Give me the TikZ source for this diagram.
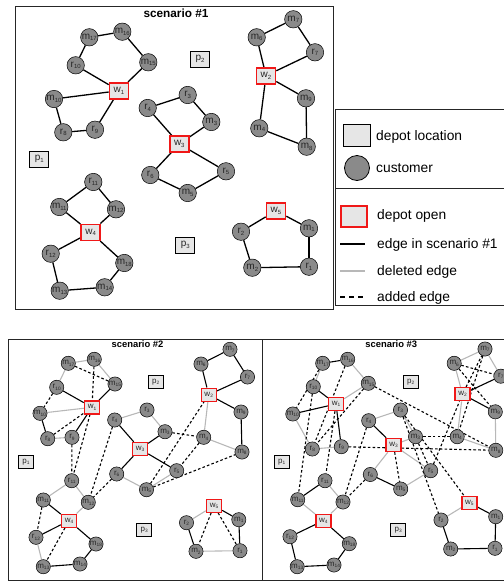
\documentclass[tikz,border=0pt]{standalone}
\usepackage{fontspec}
\setmainfont{Liberation Sans}
\usetikzlibrary{backgrounds}
\definecolor{custgray}{HTML}{8A8A8A}
\definecolor{depfill}{HTML}{E6E6E6}
\definecolor{delgray}{HTML}{B8B8B8}
\definecolor{openred}{HTML}{F01818}
\newcommand\subA[1]{\raisebox{-0.3ex}{\fontsize{6}{6}\selectfont #1}}
\newcommand\subB[1]{\raisebox{-0.3ex}{\fontsize{4.8}{5}\selectfont #1}}
\tikzset{
 custA/.style={circle, draw=black, line width=0.5pt, fill=custgray, minimum size=17.4pt, inner sep=0pt, text=black!85, font=\fontsize{10}{10}\selectfont},
 custB/.style={custA, minimum size=14.2pt, font=\fontsize{8}{8}\selectfont},
 depA/.style={rectangle, draw=black, line width=0.8pt, fill=depfill, minimum width=19pt, minimum height=16pt, inner sep=0pt, text=black!85, font=\fontsize{10}{10}\selectfont},
 depB/.style={depA, minimum width=15pt, minimum height=13pt, font=\fontsize{8}{8}\selectfont},
 openA/.style={depA, draw=openred, line width=1.6pt},
 openB/.style={depB, draw=openred, line width=1.4pt},
 sol/.style={line width=1.3pt, black},
 solB/.style={line width=1.1pt, black},
 delB/.style={line width=1.1pt, delgray},
 addB/.style={line width=1.1pt, black, dash pattern=on 2.6pt off 2.2pt},
 legtext/.style={anchor=base west, inner sep=0pt, font=\fontsize{13.8}{16}\selectfont},
 frame/.style={line width=0.9pt, black!85},
}
\begin{document}
\begin{tikzpicture}[x=1pt,y=-1pt]
\useasboundingbox (0,0) rectangle (504,582);
% frames
\draw[frame] (15,6) rectangle (333,309);
\draw[frame] (335,109) rectangle (510,305.5);
\draw[frame] (335,188.3) -- (510,188.3);
\draw[frame] (8.3,339.3) rectangle (262,580);
\draw[frame] (262,339.3) rectangle (510,580);
% titles
\node[anchor=base, inner sep=0pt, font=\bfseries\fontsize{11.8}{12}\selectfont] (t1) at (176,17.2) {scenario \#1};
\node[anchor=base, inner sep=0pt, font=\bfseries\fontsize{9.4}{10}\selectfont] (t2) at (137.5,347.5) {scenario \#2};
\node[anchor=base, inner sep=0pt, font=\bfseries\fontsize{9.4}{10}\selectfont] (t3) at (391.3,347.5) {scenario \#3};
% legend
\node[draw=black, line width=0.8pt, fill=depfill, minimum width=27pt, minimum height=22pt, inner sep=0pt] (lg1) at (356.5,135) {};
\node[legtext] (lt1) at (376,140) {depot location};
\node[circle, draw=black, line width=0.8pt, fill=custgray, minimum size=25pt, inner sep=0pt] (lg2) at (357,168) {};
\node[legtext] (lt2) at (376,172.5) {customer};
\node[draw=openred, line width=1.4pt, fill=depfill, minimum width=26pt, minimum height=21pt, inner sep=0pt] (lg3) at (354,216.5) {};
\node[legtext] (lt3) at (377,219.5) {depot open};
\coordinate (l1a) at (340,244); \coordinate (l1b) at (365,244);
\draw[line width=2pt] (l1a) -- (l1b);
\node[legtext] (lt4) at (377,248.5) {edge in scenario \#1};
\coordinate (l2a) at (340,270.7); \coordinate (l2b) at (365,270.7);
\draw[line width=2pt, delgray] (l2a) -- (l2b);
\node[legtext] (lt5) at (377,275.2) {deleted edge};
\coordinate (l3a) at (340,296.7); \coordinate (l3b) at (366,296.7);
\draw[line width=2pt, dash pattern=on 5pt off 4pt] (l3a) -- (l3b);
\node[legtext] (lt6) at (377,301.2) {added edge};
% ---------------- scenario 1 nodes
\foreach \l/\k/\x/\y in {m/17/89.3/37.3, m/16/122.3/31.7, m/15/148.3/62.3, r/10/75.7/65.3, m/10/54/99, r/8/63.3/132.3, r/9/95/129.7, r/3/187.7/95, r/4/147.7/108, m/3/211.3/122, r/6/150.3/175, r/5/226/171.3, m/5/187.7/193, r/11/93.3/182, m/11/59.3/207, m/12/116/209.3, r/12/50.7/253.7, m/18/124.3/263, m/13/59.7/290.7, m/14/104.7/287.3, m/7/293.3/19.3, m/6/256.7/37.3, r/7/315/52.3, m/9/306/98.3, m/4/259.3/128.3, m/8/306.7/146.7, r/2/241/231.7, m/1/309/228.3, m/2/252.3/267.7, r/1/309/266.7}
  \node[custA] (a\l\k) at (\x,\y) {\l\subA{\k}};
\foreach \k/\x/\y in {1/119/90.7, 2/266/75.7, 3/179.3/144, 4/90.7/232.3, 5/276/210.7}
  \node[openA] (aw\k) at (\x,\y) {w\subA{\k}};
\foreach \k/\x/\y in {1/39.3/159.3, 2/200/59.3, 3/185.3/245}
  \node[depA] (ap\k) at (\x,\y) {p\subA{\k}};
% ---------------- scenario 2 nodes
\foreach \l/\k/\x/\y in {m/16/94.3/359.3, m/17/68.3/363.3, m/15/115/384, r/10/56.7/387.3, m/10/40/413.3, r/8/47.7/438.7, r/9/72/437.3, r/3/147/410, r/4/114.7/420, m/3/165/431.7, r/6/116.7/474, r/5/176.7/470.7, m/5/146.5/489.7, r/11/71.7/480.7, m/11/43.3/500, m/12/88.3/502.3, r/12/36/537.3, m/18/96/544, m/13/43.3/566.7, m/14/80/564, m/7/230/349.3, m/6/201/364, r/7/247.5/377, m/9/241/412, m/4/203.7/437.3, m/8/242/452, r/2/186.5/522.7, m/1/238.8/519.7, m/2/196/551.3, r/1/240/550.7}
  \node[custB] (b\l\k) at (\x,\y) {\l\subB{\k}};
\foreach \k/\x/\y in {1/92/407.3, 2/208.7/394.7, 3/140/449, 4/69/520.7, 5/214/505.7}
  \node[openB] (bw\k) at (\x,\y) {w\subB{\k}};
\foreach \k/\x/\y in {1/26/462.3, 2/155.8/381.7, 3/144.2/529.7}
  \node[depB] (bp\k) at (\x,\y) {p\subB{\k}};
% ---------------- scenario 3 nodes
\foreach \l/\k/\x/\y in {m/17/322.7/363.3, m/16/347.7/359.3, m/15/368.3/383.3, r/10/313.3/386.7, m/10/292.8/414, r/8/312.3/449, r/9/341.3/446.7, r/3/400.5/410, r/4/368.7/420.7, m/3/415.5/436.7, r/6/370.3/474.5, r/5/430.7/470.7, m/5/400.7/489, r/11/325/480.7, m/11/297.7/499.7, m/12/343/502, r/12/290/536.7, m/18/349.3/543.7, m/13/297.2/566.7, m/14/334/565, m/7/485/349, m/6/454.2/363.3, r/7/500.8/376.2, m/9/495.3/411.8, m/4/457.2/436.7, m/8/495.8/450.3, r/2/441/520, m/1/495.7/516.7, m/2/450.7/549, r/1/495/548.3}
  \node[custB] (c\l\k) at (\x,\y) {\l\subB{\k}};
\foreach \k/\x/\y in {1/336/404, 2/462.5/394.2, 3/393.5/445, 4/323.3/520.7, 5/469.3/502.7}
  \node[openB] (cw\k) at (\x,\y) {w\subB{\k}};
\foreach \k/\x/\y in {1/281.7/462.2, 2/410.7/381.7, 3/398.3/530}
  \node[depB] (cp\k) at (\x,\y) {p\subB{\k}};
% ---------------- edges
\begin{scope}[on background layer]
\foreach \u/\v in {w1/r10, r10/m17, m17/m16, m16/m15, m15/w1, w1/m10, m10/r8, r8/r9, r9/w1, w3/r4, r4/r3, r3/m3, m3/w3, w3/r6, r6/m5, m5/r5, r5/w3, w2/m6, m6/m7, m7/r7, r7/w2, w2/m9, m9/m8, m8/m4, m4/w2, w4/m11, m11/r11, r11/m12, m12/w4, w4/r12, r12/m13, m13/m14, m14/m18, m18/w4, w5/r2, r2/m2, m2/r1, r1/m1, m1/w5}
  \draw[sol] (a\u) -- (a\v);
% scenario 2
\foreach \u/\v in {m17/m16, m16/m15, m17/r10, m10/w1, r8/r9, r4/r3, r3/m3, r6/m5, m5/r5, w2/m4, m4/m8, m11/r11, r11/m12, m12/w4, r12/m13, w5/r2, m2/r1}
  \draw[delB] (b\u) -- (b\v);
\foreach \u/\v in {w1/r10, w1/m15, w1/r9, m10/r8, w3/r4, w3/m3, w3/r6, w3/r5, w2/m6, m6/m7, m7/r7, r7/w2, w2/m9, m9/m8, w4/m11, w4/r12, w4/m18, m18/m14, m14/m13, w5/m1, m1/r1, r2/m2}
  \draw[solB] (b\u) -- (b\v);
\foreach \u/\v in {r10/m10, r8/w1, m17/m15, m16/w1, r9/r11, w1/r11, r4/m12, r6/m12, m3/m4, m4/r5, m5/w2, m5/m8, m11/r12, w4/m13, w5/m2, w5/r1}
  \draw[addB] (b\u) -- (b\v);
% scenario 3
\foreach \u/\v in {m17/r10, m16/m15, m15/w1, m10/r8, r8/r9, r4/r3, r3/m3, m3/w3, w3/r6, m5/r5, r5/w3, w2/m6, m6/m7, m7/r7, w2/m4, m4/m8, m9/m8, r11/m12, m12/w4, w4/m11, w5/r2}
  \draw[delB] (c\u) -- (c\v);
\foreach \u/\v in {m17/m16, r10/w1, m10/w1, w1/r9, w3/r4, r6/m5, r7/w2, w2/m9, m11/r11, w4/r12, r12/m13, m13/m14, m14/m18, m18/w4, r2/m2, m2/r1, r1/m1, m1/w5}
  \draw[solB] (c\u) -- (c\v);
\foreach \u/\v in {m17/m10, r10/m11, m16/r8, m15/r8, w1/r11, m15/m8, r9/m8, r4/m12, r6/m12, w3/m5, r3/r2, r3/w5, m6/r7, m6/m9, w2/m7, m7/m4, m4/m3, m3/r5, r5/w2}
  \draw[addB] (c\u) -- (c\v);
\end{scope}
\end{tikzpicture}
\end{document}
